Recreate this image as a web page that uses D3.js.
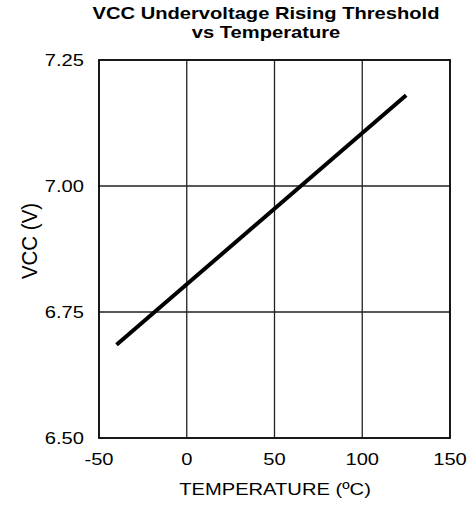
<!DOCTYPE html>
<html>
<head>
<meta charset="utf-8">
<script src="https://cdn.jsdelivr.net/npm/d3@7"></script>
<style>
  body { margin: 0; background: #fff; }
  text { font-family: Arial, "Liberation Sans", sans-serif; fill: #000; }
</style>
</head>
<body>
<div id="chart"></div>
<script>
// Chart data
var temperature = [-40, 125];
var vccRising = [6.685, 7.18];
var xTicks = [-50, 0, 50, 100, 150];
var yTicks = [6.50, 6.75, 7.00, 7.25];
var titleLines = ["VCC Undervoltage Rising Threshold", "vs Temperature"];

var svgWidth = 474;
var svgHeight = 508;

var margin = { top: 60, right: 24, bottom: 70, left: 99 };
var width = 450 - margin.left;
var height = 438 - margin.top;

// glyphs in the reference are a bit wider than tall
var stretch = 1.2;

var svg = d3.select("#chart")
  .append("svg")
  .attr("width", svgWidth)
  .attr("height", svgHeight);

var chartGroup = svg.append("g")
  .attr("transform", `translate(${margin.left}, ${margin.top})`);

var xScale = d3.scaleLinear().domain([-50, 150]).range([0, width]);
var yScale = d3.scaleLinear().domain([6.5, 7.25]).range([height, 0]);

// grid lines
chartGroup.append("g")
  .selectAll("line")
  .data(xTicks.slice(1, -1))
  .enter()
  .append("line")
  .attr("x1", d => xScale(d))
  .attr("x2", d => xScale(d))
  .attr("y1", 0)
  .attr("y2", height)
  .attr("stroke", "#222")
  .attr("stroke-width", 1.3);

chartGroup.append("g")
  .selectAll("line")
  .data(yTicks.slice(1, -1))
  .enter()
  .append("line")
  .attr("x1", 0)
  .attr("x2", width)
  .attr("y1", d => yScale(d))
  .attr("y2", d => yScale(d))
  .attr("stroke", "#222")
  .attr("stroke-width", 1.3);

// frame
chartGroup.append("rect")
  .attr("width", width)
  .attr("height", height)
  .attr("fill", "none")
  .attr("stroke", "#000")
  .attr("stroke-width", 1.8);

// data line
var points = temperature.map((t, i) => [t, vccRising[i]]);
var line = d3.line().x(d => xScale(d[0])).y(d => yScale(d[1]));
chartGroup.append("path")
  .datum(points)
  .attr("d", line)
  .attr("fill", "none")
  .attr("stroke", "#000")
  .attr("stroke-width", 4);

// helper for stretched text
function label(g, x, y, txt, anchor, size, weight, sx) {
  return g.append("text")
    .attr("transform", `translate(${x}, ${y}) scale(${sx || stretch}, 1)`)
    .attr("text-anchor", anchor)
    .attr("font-size", size + "px")
    .attr("font-weight", weight)
    .text(txt);
}

// tick labels
xTicks.forEach(function(t) {
  label(chartGroup, xScale(t), height + 27, t, "middle", 16.8, "normal");
});
yTicks.forEach(function(t) {
  label(chartGroup, -15, yScale(t) + 6, t.toFixed(2), "end", 16.8, "normal");
});

// axis titles
label(svg, 275, 495, "TEMPERATURE (\u00baC)", "middle", 16.8, "normal");

svg.append("text")
  .attr("transform", "translate(36.5, 241) scale(1.05, 1) rotate(-90)")
  .attr("text-anchor", "middle")
  .attr("font-size", "20.5px")
  .text("VCC (V)");

// title, two tight lines
titleLines.forEach(function(t, i) {
  label(svg, 266, 19 + i * 18.5, t, "middle", 16, "bold", 1.26);
});
</script>
</body>
</html>
